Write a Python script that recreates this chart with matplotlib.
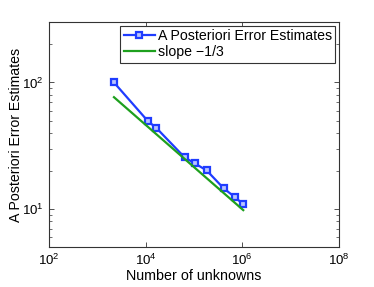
import matplotlib
matplotlib.use('Agg')
import matplotlib.pyplot as plt
from matplotlib.ticker import LogLocator, NullLocator, NullFormatter, FixedLocator

plt.rcParams['font.family'] = ['Liberation Sans', 'DejaVu Sans']
plt.rcParams['mathtext.fontset'] = 'custom'
plt.rcParams['mathtext.rm'] = 'Liberation Sans'
plt.rcParams['mathtext.it'] = 'Liberation Sans:italic'

# data
unknowns = [2213, 11200, 16600, 64100, 103000, 183000, 411000, 705000, 1050000]
estimates = [100, 49.4, 43.8, 25.6, 23.0, 20.2, 14.6, 12.4, 10.9]
slope_x = [2213, 1050000]
slope_y = [76.5, 9.8]

fig = plt.figure(figsize=(3.74, 2.87), dpi=100)
ax = fig.add_axes([0.131, 0.139, 0.775, 0.784])

ax.loglog(unknowns, estimates, '-s', color='#1f3cff', lw=1.6, ms=4.5,
          mfc='#b8c4ff', mec='#1f3cff', mew=1.6, label='A Posteriori Error Estimates')
ax.loglog(slope_x, slope_y, '-', color='#1ea01e', lw=1.6, label='slope \u22121/3')

ax.set_xlim(1e2, 1e8)
ax.set_ylim(5, 300)
ax.xaxis.set_major_locator(FixedLocator([1e2, 1e4, 1e6, 1e8]))
ax.xaxis.set_minor_locator(NullLocator())
ax.yaxis.set_minor_locator(LogLocator(base=10, subs=range(2, 10), numticks=10))
ax.yaxis.set_minor_formatter(NullFormatter())

ax.tick_params(which='both', direction='in', top=True, right=True, labelsize=9.5,
               colors='#333333', labelcolor='black')
ax.tick_params(which='major', length=3.5, width=0.6, pad=4)
ax.tick_params(which='minor', length=2, width=0.5)
for s in ax.spines.values():
    s.set_color('#333333')
    s.set_linewidth(0.8)

ax.set_xlabel('Number of unknowns', fontsize=10.3, labelpad=1)
ax.set_ylabel('A Posteriori Error Estimates', fontsize=10.2)
ax.yaxis.set_label_coords(-0.09, 0.5)

leg = ax.legend(loc='upper right', fontsize=10.2, handlelength=2.2, handletextpad=0.2,
                borderpad=0.25, labelspacing=0.15, fancybox=False, framealpha=1,
                borderaxespad=0.25)
leg.get_frame().set_edgecolor('#333333')
leg.get_frame().set_linewidth(0.8)

fig.savefig('out.png', dpi=100)
